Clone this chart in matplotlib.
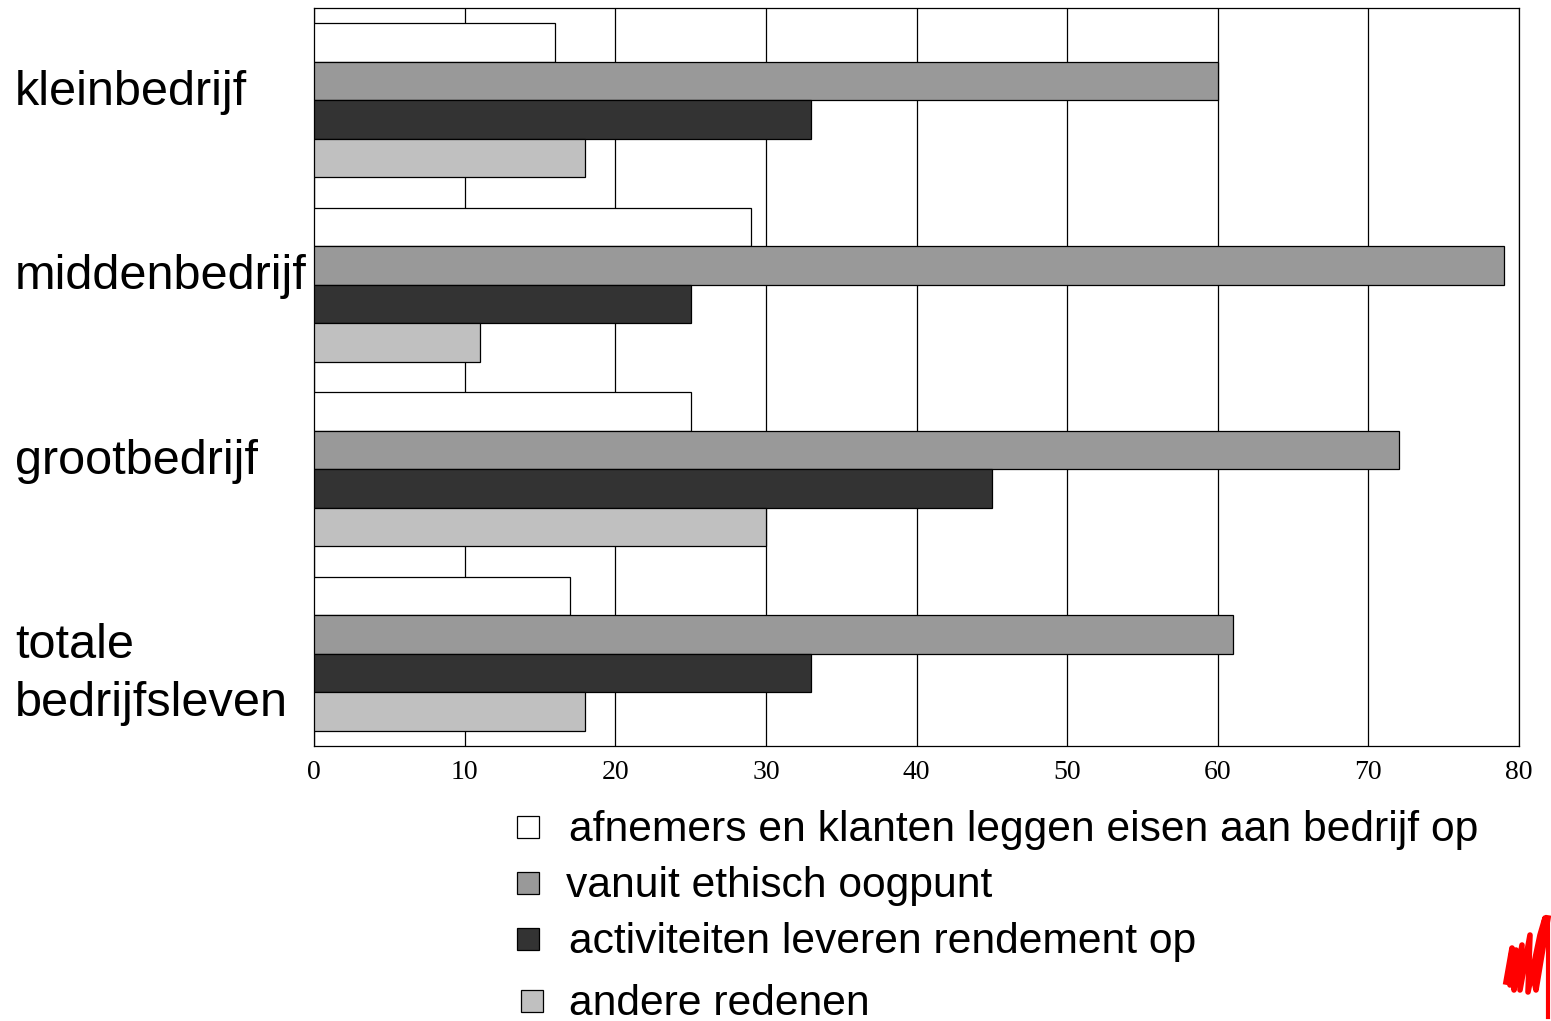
import matplotlib.pyplot as plt
import matplotlib.patches as mpatches
import matplotlib.transforms as mtransforms
import numpy as np

categories = ["kleinbedrijf", "middenbedrijf", "grootbedrijf", "totale\nbedrijfsleven"]
series_labels = [
    "afnemers en klanten leggen eisen aan bedrijf op",
    "vanuit ethisch oogpunt",
    "activiteiten leveren rendement op",
    "andere redenen",
]
klanten = [16, 29, 25, 17]
ethisch = [60, 79, 72, 61]
rendement = [33, 25, 45, 33]
andere = [18, 11, 30, 18]
series = [klanten, ethisch, rendement, andere]
colors = ["#ffffff", "#999999", "#333333", "#c0c0c0"]
xticks = [0, 10, 20, 30, 40, 50, 60, 70, 80]

fig = plt.figure(figsize=(15.51, 10.21), dpi=100)
ax = fig.add_axes([0.2025, 0.2693, 0.9794 - 0.2025, 0.9922 - 0.2693])

bar_h = 0.209
y = np.arange(len(categories))
for k, (vals, col) in enumerate(zip(series, colors)):
    ax.barh(y + (k - 1.5) * bar_h, vals, height=bar_h, color=col,
            edgecolor="black", linewidth=0.9, zorder=3)

ax.set_xlim(0, 80)
ax.set_ylim(len(categories) - 0.5, -0.5)
ax.set_xticks(xticks)
ax.set_xticklabels([str(t) for t in xticks], fontfamily="Liberation Serif", fontsize=20)
ax.tick_params(axis="x", length=0, pad=10)
ax.set_yticks([])
ax.grid(axis="x", color="black", linewidth=0.9, zorder=0)
for s in ax.spines.values():
    s.set_color("black")
    s.set_linewidth(0.9)

# category labels at the far left of the figure, one text per line
trans = mtransforms.blended_transform_factory(fig.transFigure, ax.transData)
for i, name in enumerate(categories):
    for j, line in enumerate(name.split("\n")):
        ax.text(0.0097, i + 0.025 + j * 0.314, line, transform=trans,
                ha="left", va="baseline", fontfamily="Liberation Sans",
                fontsize=35, clip_on=False)

# legend below the plot
leg_y = [827, 883, 939, 1001]
leg_sq_x = [517, 517, 517, 521]
leg_tx_x = [569, 566, 569, 569]
for lab, col, py, sx, tx in zip(series_labels, colors, leg_y, leg_sq_x, leg_tx_x):
    fy = 1 - py / 1021
    fig.add_artist(mpatches.Rectangle((sx / 1551, fy - 11 / 1021), 22 / 1551, 22 / 1021,
                                      facecolor=col, edgecolor="black", linewidth=0.9,
                                      transform=fig.transFigure))
    fig.text(tx / 1551, fy - 3 / 1021, lab, ha="left", va="center",
             fontfamily="Liberation Sans", fontsize=30.7)

# red scribble logo in the bottom-right corner
sx = np.array([1506, 1512, 1510, 1516, 1514, 1522, 1520, 1530, 1528, 1540, 1545, 1535, 1536, 1548]) / 1551
sy = np.array([982, 948, 985, 950, 990, 945, 990, 935, 992, 935, 918, 985, 990, 918]) / 1021
fig.add_artist(plt.Line2D(sx, 1 - sy, color="red", linewidth=4, transform=fig.transFigure))
fig.add_artist(plt.Line2D([1548 / 1551, 1548 / 1551], [1 - 918 / 1021, 1 - 1017 / 1021],
                          color="red", linewidth=3, transform=fig.transFigure))

fig.savefig("out.png", dpi=100, facecolor="white")
